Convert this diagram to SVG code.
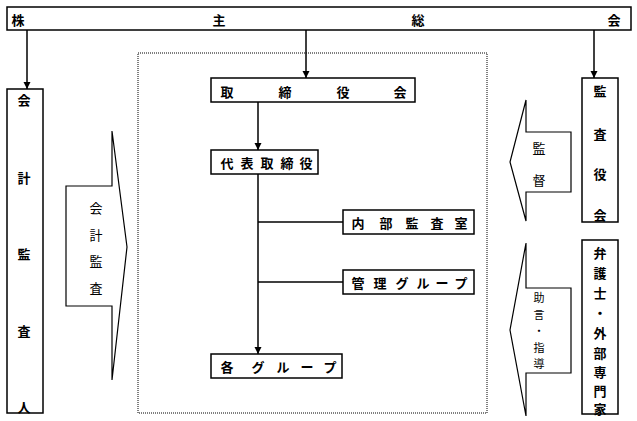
<svg xmlns="http://www.w3.org/2000/svg" width="637" height="421" viewBox="0 0 637 421">
<style>
.box{fill:#fff;stroke:#000;stroke-width:1.5}
.shape{fill:#fff;stroke:#000;stroke-width:1.2}
.t{font-family:"Noto Sans CJK JP","Noto Sans",sans-serif;font-size:13px;font-weight:bold;fill:#000;text-anchor:middle;dominant-baseline:central}
.tl{font-family:"Noto Sans CJK JP","Noto Sans",sans-serif;font-size:13px;font-weight:normal;fill:#000;text-anchor:middle;dominant-baseline:central}
.ts{font-family:"Noto Sans CJK JP","Noto Sans",sans-serif;font-size:11px;font-weight:normal;fill:#000;text-anchor:middle;dominant-baseline:central}
.ln{stroke:#000;stroke-width:1.5;fill:none}
</style>
<defs>
<marker id="ah" markerWidth="8" markerHeight="8" refX="7" refY="4" orient="auto" markerUnits="userSpaceOnUse">
<path d="M0,0.5 L7,4 L0,7.5 Z" fill="#000"/>
</marker>
</defs>
<rect width="637" height="421" fill="#fff"/>
<rect x="138" y="53" width="349" height="360" fill="none" stroke="#000" stroke-width="1" stroke-dasharray="1,1"/>

<g id="connectors">
<line class="ln" x1="27" y1="30" x2="27" y2="89" marker-end="url(#ah)"/>
<line class="ln" x1="306" y1="30" x2="306" y2="78" marker-end="url(#ah)"/>
<line class="ln" x1="594" y1="30" x2="594" y2="78" marker-end="url(#ah)"/>
<line class="ln" x1="258" y1="102" x2="258" y2="150" marker-end="url(#ah)"/>
<line class="ln" x1="258" y1="174" x2="258" y2="354" marker-end="url(#ah)"/>
<line class="ln" x1="258" y1="222" x2="343" y2="222"/>
<line class="ln" x1="258" y1="282" x2="343" y2="282"/>
</g>

<g id="shareholders">
<rect class="box" x="7" y="7" width="624" height="23"/>
<text class="t" x="18" y="19">株</text>
<text class="t" x="219" y="19">主</text>
<text class="t" x="418" y="19">総</text>
<text class="t" x="614" y="19">会</text>
</g>

<g id="auditor">
<rect class="box" x="7" y="89" width="36" height="324"/>
<text class="t" x="24" y="99">会</text>
<text class="t" x="24" y="177">計</text>
<text class="t" x="24" y="253">監</text>
<text class="t" x="24" y="330">査</text>
<text class="t" x="24" y="406">人</text>
</g>

<g id="audit-arrow">
<polygon class="shape" points="66,186 112,186 112,131 127,247 112,380 112,306 66,306"/>
<text class="tl" x="96" y="207">会</text>
<text class="tl" x="96" y="234">計</text>
<text class="tl" x="96" y="260">監</text>
<text class="tl" x="96" y="287">査</text>
</g>

<g id="board">
<rect class="box" x="211" y="78" width="204" height="24"/>
<text class="t" x="227" y="91">取</text>
<text class="t" x="285" y="91">締</text>
<text class="t" x="343" y="91">役</text>
<text class="t" x="400" y="91">会</text>
</g>

<g id="president">
<rect class="box" x="211" y="150" width="107" height="24"/>
<text class="t" x="227" y="162">代</text>
<text class="t" x="247" y="162">表</text>
<text class="t" x="267" y="162">取</text>
<text class="t" x="287" y="162">締</text>
<text class="t" x="306" y="162">役</text>
</g>

<g id="internal-audit">
<rect class="box" x="343" y="210" width="131" height="24"/>
<text class="t" x="358" y="222">内</text>
<text class="t" x="386" y="222">部</text>
<text class="t" x="412" y="222">監</text>
<text class="t" x="437" y="222">査</text>
<text class="t" x="461" y="222">室</text>
</g>

<g id="admin-group">
<rect class="box" x="343" y="270" width="131" height="24"/>
<text class="t" x="358" y="282">管</text>
<text class="t" x="380" y="282">理</text>
<text class="t" x="402" y="282">グ</text>
<text class="t" x="423" y="282">ル</text>
<text class="t" x="442" y="282">ー</text>
<text class="t" x="461" y="282">プ</text>
</g>

<g id="each-group">
<rect class="box" x="211" y="354" width="131" height="24"/>
<text class="t" x="227" y="366">各</text>
<text class="t" x="258" y="366">グ</text>
<text class="t" x="283" y="366">ル</text>
<text class="t" x="307" y="366">ー</text>
<text class="t" x="330" y="366">プ</text>
</g>

<g id="supervise-arrow">
<polygon class="shape" points="571,132 526,132 526,100 510,162 526,221 526,192 571,192"/>
<text class="tl" x="539" y="147">監</text>
<text class="tl" x="539" y="179">督</text>
</g>

<g id="advice-arrow">
<polygon class="shape" points="571,288 526,288 526,243 510,330 526,416 526,373 571,373"/>
<text class="ts" x="539" y="297">助</text>
<text class="ts" x="539" y="313.5">言</text>
<text class="ts" x="539" y="330">・</text>
<text class="ts" x="539" y="346.5">指</text>
<text class="ts" x="539" y="363">導</text>
</g>

<g id="kansayakukai">
<rect class="box" x="582" y="78" width="36" height="144"/>
<text class="t" x="600" y="90">監</text>
<text class="t" x="600" y="133">査</text>
<text class="t" x="600" y="173">役</text>
<text class="t" x="600" y="214">会</text>
</g>

<g id="lawyers">
<rect class="box" x="582" y="240" width="36" height="174"/>
<text class="t" x="600" y="252">弁</text>
<text class="t" x="600" y="272">護</text>
<text class="t" x="600" y="292">士</text>
<text class="t" x="600" y="312">・</text>
<text class="t" x="600" y="332">外</text>
<text class="t" x="600" y="352">部</text>
<text class="t" x="600" y="371">専</text>
<text class="t" x="600" y="390">門</text>
<text class="t" x="600" y="408">家</text>
</g>
</svg>
